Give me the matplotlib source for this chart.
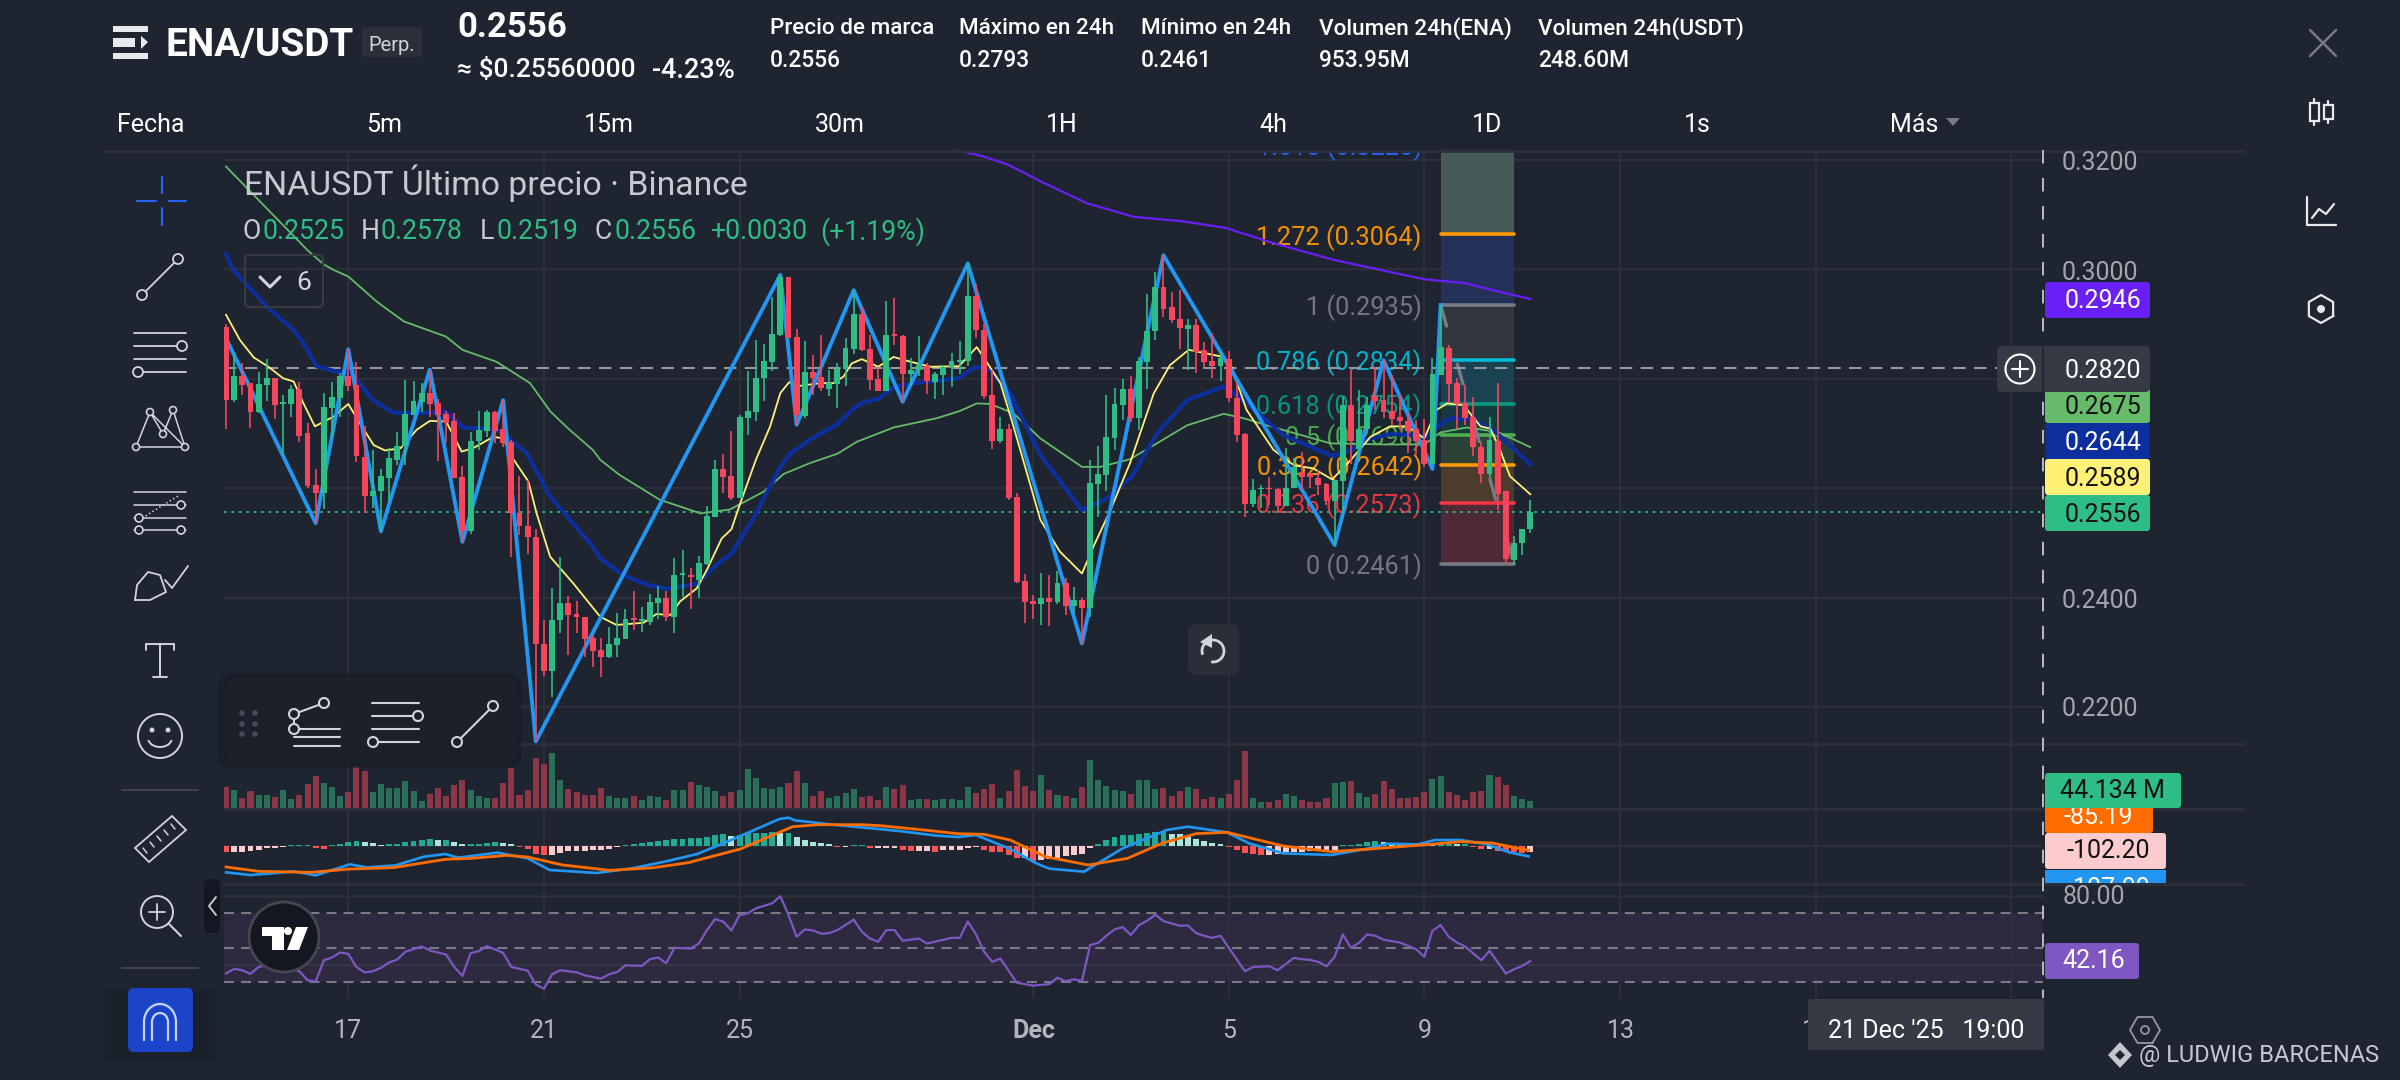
import numpy as np
import matplotlib
matplotlib.use("Agg")
import matplotlib.pyplot as plt
from matplotlib.patches import Rectangle, FancyBboxPatch, Circle, Arc, Polygon

plt.rcParams["font.family"] = ["Roboto", "DejaVu Sans"]

# 4h candles, prices in 1/10000
opens = [2895,2761,2805,2792,2739,2789,2802,2754,2754,2781,
         2700,2606,2592,2747,2764,2806,2789,2657,2586,2594,
         2619,2652,2677,2734,2758,2774,2755,2736,2722,2621,
         2522,2686,2705,2739,2708,2685,2555,2531,2511,2316,
         2265,2359,2390,2370,2364,2326,2304,2291,2313,2325,
         2363,2358,2356,2391,2399,2365,2442,2441,2433,2462,
         2548,2636,2622,2582,2728,2739,2802,2831,2880,2987,
         2876,2732,2813,2803,2781,2791,2818,2855,2919,2854,
         2800,2778,2882,2878,2809,2816,2823,2794,2807,2820,
         2831,2833,2951,2889,2770,2686,2708,2584,2430,2394,
         2388,2399,2392,2427,2385,2395,2381,2608,2624,2692,
         2752,2781,2728,2831,2887,2968,2931,2909,2891,2898,
         2853,2833,2823,2836,2764,2699,2571,2598,2601,2598,
         2567,2600,2630,2626,2619,2607,2577,2614,2752,2672,
         2708,2769,2761,2742,2731,2723,2709,2688,2645,2807,
         2857,2793,2755,2731,2676,2626,2687,2594,2469,2499,2525]
highs = [2901,2847,2828,2792,2813,2836,2802,2770,2788,2795,
         2719,2635,2774,2795,2811,2854,2830,2714,2670,2636,
         2673,2702,2798,2796,2792,2817,2763,2741,2737,2641,
         2702,2741,2743,2741,2761,2689,2622,2615,2525,2359,
         2417,2475,2403,2394,2365,2332,2326,2346,2371,2380,
         2412,2382,2407,2421,2412,2472,2487,2454,2476,2568,
         2652,2663,2704,2733,2814,2871,2864,2950,2990,2987,
         2891,2869,2844,2880,2816,2828,2874,2962,2933,2880,
         2822,2942,2947,2880,2838,2878,2828,2813,2825,2847,
         2869,3011,2973,2900,2816,2730,2717,2591,2443,2405,
         2445,2441,2448,2436,2419,2399,2651,2677,2770,2783,
         2800,2805,2839,2955,2995,3026,2959,2962,2909,2909,
         2867,2883,2850,2851,2795,2701,2616,2606,2621,2600,
         2673,2655,2667,2630,2634,2609,2615,2767,2817,2780,
         2767,2822,2834,2807,2772,2737,2725,2726,2838,2935,
         2862,2801,2789,2766,2685,2730,2792,2595,2513,2525,2578]
lows = [2708,2758,2770,2710,2737,2760,2727,2661,2730,2685,
        2600,2536,2562,2694,2731,2777,2647,2554,2563,2521,
        2574,2643,2643,2734,2740,2731,2649,2683,2618,2502,
        2516,2669,2694,2683,2676,2475,2515,2480,2137,2256,
        2219,2335,2295,2336,2292,2274,2254,2290,2292,2325,
        2341,2338,2350,2360,2358,2336,2402,2379,2399,2460,
        2548,2592,2579,2582,2697,2723,2760,2815,2879,2874,
        2716,2728,2770,2778,2769,2747,2787,2845,2851,2780,
        2778,2778,2862,2758,2786,2805,2772,2763,2770,2785,
        2809,2823,2875,2763,2671,2683,2578,2426,2354,2361,
        2350,2348,2389,2368,2371,2316,2365,2548,2595,2670,
        2725,2721,2706,2781,2871,2913,2902,2854,2816,2811,
        2821,2801,2796,2758,2685,2548,2566,2563,2569,2557,
        2567,2600,2597,2600,2587,2569,2496,2554,2645,2652,
        2706,2743,2728,2715,2706,2665,2661,2638,2645,2807,
        2755,2709,2715,2659,2610,2618,2560,2462,2460,2478,2519]
closes = [2761,2805,2789,2739,2791,2802,2752,2757,2781,2696,
          2604,2592,2749,2767,2806,2787,2658,2586,2595,2622,
          2655,2677,2736,2760,2774,2754,2733,2720,2619,2522,
          2686,2706,2739,2704,2683,2555,2530,2511,2316,2265,
          2359,2390,2368,2365,2325,2302,2292,2315,2327,2360,
          2359,2360,2392,2399,2365,2441,2445,2437,2463,2549,
          2636,2621,2582,2730,2741,2802,2833,2882,2987,2875,
          2734,2813,2802,2783,2792,2818,2856,2919,2852,2798,
          2778,2880,2878,2809,2816,2825,2796,2809,2821,2833,
          2834,2951,2889,2769,2686,2708,2582,2429,2392,2389,
          2399,2392,2427,2385,2395,2381,2609,2626,2694,2754,
          2781,2728,2833,2887,2968,2928,2907,2893,2898,2849,
          2831,2823,2838,2764,2697,2571,2597,2601,2598,2567,
          2600,2639,2620,2620,2606,2577,2615,2752,2687,2709,
          2752,2760,2740,2726,2722,2705,2687,2645,2809,2859,
          2790,2754,2728,2675,2626,2688,2589,2470,2499,2525,2556]

# volume in millions
volume = [132,113,63,107,82,82,69,113,57,82,
          151,202,158,132,76,101,265,233,101,151,
          126,126,170,107,44,88,126,76,145,176,
          113,76,63,63,158,252,82,113,315,277,
          347,176,120,101,82,82,126,76,63,63,
          76,50,76,69,50,113,113,164,145,132,
          107,76,101,113,246,189,126,120,132,158,
          233,158,76,107,63,76,95,120,69,76,
          50,132,120,145,50,57,57,50,57,57,
          50,132,95,120,151,63,107,239,139,107,
          208,113,82,76,63,132,302,176,139,113,
          107,88,176,176,120,126,76,107,132,120,
          57,69,63,88,176,359,63,38,38,50,
          88,76,50,38,38,63,158,164,170,95,
          69,88,170,120,63,63,69,101,183,202,
          101,82,50,101,107,208,195,145,76,57,44]

macd_hist = [-60,-54,-54,-51,-42,-24,-21,-15,9,9,
             9,-21,-30,9,15,30,45,36,21,9,
             12,18,30,45,48,60,54,54,36,12,
             18,18,27,33,24,12,-15,-27,-72,-87,
             -84,-66,-51,-51,-48,-42,-36,-27,-15,9,
             18,24,36,45,54,60,63,69,72,81,
             99,105,90,99,114,114,114,120,114,114,
             75,54,36,21,12,-12,-9,9,9,-24,
             -24,-24,-18,-36,-45,-45,-45,-54,-42,-42,
             -42,-21,-12,-36,-54,-60,-84,-114,-114,-138,
             -132,-120,-114,-90,-84,-72,-24,12,48,75,
             96,99,102,114,120,126,108,102,84,60,
             45,27,15,-12,-36,-66,-78,-84,-84,-78,
             -60,-54,-54,-48,-42,-42,-36,9,9,15,
             30,39,30,27,24,15,9,9,6,12,
             18,15,15,-9,-30,-30,-45,-54,-60,-66,-54]

macd_idx = [0,3,6.2,8.3,11,15.2,17.3,20.8,24.3,26.9,28.5,33.3,37,39.7,45.5,49.8,54,57.8,61.5,67.9,69,69.8,74.8,80.1,
            82.9,87.2,89.8,92,94,96.2,99.4,101,105.25,110,115.4,118,122.8,125.5,129.7,135.6,139.8,142.5,146.2,148.3,151.5,154.7,157.4,159.8]
macd_line = [-240,-264,-246,-231,-267,-168,-195,-177,-99,-75,-108,-63,-114,-219,-246,-204,-141,-75,36,240,252,228,186,150,
             129,90,78,96,36,-30,-159,-207,-234,-24,141,171,120,21,-69,-84,-30,18,12,51,51,12,-60,-96]
signal_idx = [0,4,10.4,15.2,20.5,26.9,30.1,34.4,37,41.3,47.1,52.5,56.7,63.1,69.5,72.7,78,80.25,85.6,89.8,93,96.2,100.5,105.8,110.6,114.8,119,122.8,129.7,135.6,140.4,146.7,151.5,155.3,159.8]
signal_line = [-192,-231,-240,-210,-198,-123,-114,-87,-102,-174,-222,-198,-153,-30,171,189,189,180,141,108,102,51,-99,-174,-114,21,108,120,-3,-54,-30,6,36,24,-42]

rsi_idx = [0,1,2,3,4,5,7,9,10,11,12,13,14,15,16,17,18,19,20,21,22,24,25,27,28,29,30,31,32,34,35,37,38,39,40,41,43,44,46,47,48,49,51,52,53,54,55,57,58,59,60,61,62,63,64,65,67,68,69,70,71,72,73,74,75,77,78,79,80,81,82,
           83,85,86,89,90,91,92,93,94,95,97,99,101,102,103,104,105,106,107,108,109,110,111,112,113,114,115,117,118,119,120,121,122,125,126,128,129,131,132,133,134,135,136,137,138,139,140,141,142,144,146,147,148,149,150,151,152,154,155,157,158,159,160]
rsi_val = [34.9,37.6,36.8,34.7,38.7,39.7,38.7,36.2,31,30.4,42.6,44.2,47.1,46.3,38.7,35.6,36.2,38.2,41.3,43,47.5,50.6,48.3,45.9,38.7,33.5,46.7,47.9,50.8,46.9,38.7,36.6,28.6,26.1,34.5,36.8,35.6,33.9,31.9,34.5,35.8,39.7,39.3,43.2,44.2,40.9,49.8,49.4,52.3,60.1,66.5,65,59.9,68.8,69.8,72.7,75.6,79.7,68.8,56.2,60.5,59.9,58,58.3,60.1,66.1,59.1,55.2,53.3,60.1,60.1,
           53.9,55.2,52.3,55.6,55.6,65,57.6,47.5,41.7,43.6,29.6,27.9,28.8,32.5,30.4,31.6,30.6,51.4,52.7,56.8,60.5,61.8,57.2,63,65.5,69,65.3,62.6,62.8,58.3,56.8,55.6,56.8,36.2,38.7,39.1,36.8,44,43.2,42.8,41.7,39.1,44.6,57.6,49.8,52.7,57.6,56.8,54.5,52.9,49,44.6,59.7,63,56.2,52.9,50.6,42.6,48.1,34.9,37.4,39.3,42.16]

# moving averages, read at their visible bends
ma_purple_idx = [89,92.8,96,99.8,105.6,111.4,117.3,122.6,128.5,136,147,152,156,160]
ma_purple = [.3220,.3207,.3191,.3162,.3121,.3096,.3088,.3076,.3048,.3017,.2982,.2975,.2960,.2946]
ma_green_idx = [0,10,12,13.2,15,18.5,21.8,27,29,33.2,37.3,39.8,42.2,45,45.9,48.3,53.2,56,58.2,61.8,66,68.4,71.65,75,77.4,81.9,87.2,90,92.1,93.75,96.6,99.9,105,107.25,110.9,114.2,117.9,122.4,124.8,128.1,135.5,142,147,149,152.2,156,160]
ma_green = [.3188,.3035,.3009,.2999,.2987,.2941,.2905,.2877,.2853,.2831,.2792,.2740,.2706,.2670,.2652,.2624,.2579,.2565,.2554,.2561,.2594,.2626,.2646,.2663,.2685,.2711,.2728,.2741,.2755,.2754,.2737,.2691,.2639,.2639,.2653,.2682,.2715,.2736,.2728,.2713,.2682,.2680,.2680,.2702,.2711,.2703,.2675]
ma_navy_idx = [0,0.9,5,8.3,9.5,11.1,13.6,15.4,18,20.5,23.4,27,29.1,33.2,36.9,39.75,45,45.9,48.7,51.6,54,57.75,60.2,62,64.7,68,69.2,71.65,75,77,78.2,80,81.9,84.3,89.9,91.9,93.75,96.2,99.9,105,108,111.1,114.2,117.9,122.4,124.8,129.7,135.7,138,140.4,142.8,146,147.3,148.5,150.2,153,155.5,160]
ma_navy = [.3028,.2999,.2932,.2889,.2865,.2823,.2813,.2810,.2761,.2738,.2737,.2740,.2711,.2708,.2664,.2585,.2493,.2472,.2441,.2424,.2416,.2425,.2460,.2480,.2545,.2639,.2663,.2689,.2717,.2746,.2757,.2763,.2784,.2792,.2801,.2822,.2816,.2773,.2661,.2560,.2581,.2621,.2700,.2761,.2786,.2761,.2697,.2659,.2670,.2691,.2699,.2697,.2694,.2712,.2728,.2725,.2706,.2644]
ma_yellow_idx = [0,1.7,3.4,5.2,7,8.3,9.5,10.9,13.2,15,16.4,18.1,19.5,21.4,23.4,25,27,28.9,30.3,32.8,34,35.3,37.1,38.1,39.75,42.6,45.9,47.9,51.2,52.8,54.5,55.7,57.75,59,60.8,62,63,65,66.75,68,69.1,69.8,72.9,74.5,75.75,76.75,78,80,81.9,83.5,86.4,89.9,92.1,93.3,95,96.6,99.9,102.3,105,106.4,108.5,110.9,113.8,115.8,118.1,122,123.2,125.2,128.5,131,133.4,135.7,138,140.4,142.8,144.9,147,148.5,149.8,151.8,153.9,155.1,156.3,157.5,160]
ma_yellow = [.2917,.2871,.2839,.2822,.2801,.2795,.2755,.2713,.2731,.2754,.2719,.2679,.2669,.2673,.2707,.2723,.2722,.2667,.2673,.2694,.2691,.2652,.2612,.2554,.2475,.2426,.2365,.2350,.2354,.2370,.2368,.2393,.2417,.2451,.2508,.2525,.2569,.2652,.2713,.2774,.2794,.2786,.2792,.2792,.2804,.2828,.2836,.2822,.2840,.2833,.2822,.2823,.2858,.2831,.2792,.2713,.2542,.2484,.2444,.2493,.2560,.2646,.2773,.2825,.2853,.2841,.2828,.2743,.2670,.2642,.2636,.2616,.2652,.2694,.2713,.2713,.2691,.2743,.2755,.2752,.2713,.2709,.2670,.2622,.2589]

zigzag_idx = [0,11,15,19,25,29,34,38,68,70,77,83,91,105,115,136,142,148,149]
zigzag = [.2874,.2536,.2854,.2521,.2817,.2502,.2761,.2137,.2990,.2716,.2962,.2758,.3011,.2316,.3026,.2496,.2834,.2635,.2935]

fib_ratio = ["0", "0.236", "0.382", "0.5", "0.618", "0.786", "1", "1.272", "1.618"]
fib_price = [.2461, .2573, .2642, .2698, .2754, .2834, .2935, .3064, .3228]
fib_line_col = ["#787b86", "#f23645", "#ff9800", "#4caf50", "#089981", "#00bcd4", "#787b86", "#ff9800", "#2962ff"]
fib_band_col = ["#4e2a36", "#4c3c2b", "#2c4236", "#163b3c", "#1a4250", "#34363f", "#243259", "#465a58"]
fib_start, fib_end = 149, 158

day_ticks = [15, 39, 63, 99, 123, 147, 171, 195, 219]
day_labels = ["17", "21", "25", "Dec", "5", "9", "13", "17", "21"]
price_ticks = [.32, .30, .28, .26, .24, .22]

BG = "#1e2530"
GRID = "#2b303b"
UP = "#2ebd85"
DOWN = "#f6465d"
W, H = 2400, 1080
LEFT, RIGHT = 224, 2043

fig = plt.figure(figsize=(24, 10.8), dpi=100, facecolor=BG)


def pane(top, bottom):
    ax = fig.add_axes([LEFT / W, 1 - bottom / H, (RIGHT - LEFT) / W, (bottom - top) / H])
    ax.set_facecolor("none")
    ax.set_xlim(-0.25, 222.9)
    ax.axis("off")
    for t in day_ticks:
        ax.axvline(t, color=GRID, lw=1.4, zorder=0)
    return ax


x = np.arange(len(closes))
o, h, l, c = [np.array(a) / 1e4 for a in (opens, highs, lows, closes)]
colors = [UP if c[i] >= o[i] else DOWN for i in x]

# main price pane
ax = pane(150, 744)
ax.set_ylim(.32 - 584 / 5470, .32 + 10 / 5470)
for p in price_ticks:
    ax.axhline(p, color=GRID, lw=1.6, zorder=0)

for i in range(len(fib_band_col)):
    ax.fill_between([fib_start, fib_end], fib_price[i], fib_price[i + 1], color=fib_band_col[i], lw=0, zorder=1)
for i, p in enumerate(fib_price):
    ax.plot([fib_start, fib_end], [p, p], color=fib_line_col[i], lw=2.6, solid_capstyle="round", zorder=2)
    ax.text(146.7, p - .0005, f"{fib_ratio[i]} ({p:.4f})", color=fib_line_col[i], fontsize=18.3, ha="right",
            va="center", clip_on=True, zorder=2, alpha=0.95)
ax.plot([fib_start, fib_end], [fib_price[6], fib_price[0]], color="#787b86", lw=2.4,
        linestyle=(0, (7, 11)), zorder=2)

ax.axhline(.2820, color="#9598a1", lw=1.5, linestyle=(0, (6, 4)), zorder=2.5)
ax.axhline(.2556, color=UP, lw=1.3, linestyle=(0, (1.5, 2.6)), zorder=2.5)

ax.plot(ma_purple_idx, ma_purple, color="#6a1ff5", lw=1.6, zorder=3)
ax.plot(ma_green_idx, ma_green, color="#66bb6a", lw=1.3, zorder=3)
ax.plot(ma_navy_idx, ma_navy, color="#0d2f9e", lw=3.0, zorder=3)
ax.plot(ma_yellow_idx, ma_yellow, color="#fff176", lw=1.3, zorder=3)
ax.plot(zigzag_idx, zigzag, color="#2196f3", lw=2.8, solid_joinstyle="round", zorder=3.2)

ax.vlines(x, l, h, colors=colors, lw=1.2, zorder=4)
ax.bar(x, np.abs(c - o), bottom=np.minimum(o, c), width=0.72, color=colors, lw=0, zorder=4)

# volume
ax_v = pane(744, 809)
ax_v.set_ylim(-6.3, 403)
vol_cols = ["#2a7058" if col == UP else "#8c3747" for col in colors]
ax_v.bar(x, volume, width=0.74, color=vol_cols, lw=0, zorder=2)

# macd
ax_m = pane(809, 884)
ax_m.set_ylim(-345, 330)
ax_m.axhline(0, color=GRID, lw=1.4, zorder=0)
hist_cols = []
for i, val in enumerate(macd_hist):
    prev = macd_hist[i - 1] if i else val + 1
    if val >= 0:
        hist_cols.append("#22ab94" if val >= prev else "#ace5dc")
    else:
        hist_cols.append("#ff5252" if val < prev else "#fccbcd")
ax_m.bar(x, macd_hist, width=0.72, color=hist_cols, lw=0, zorder=2)
ax_m.plot(macd_idx, macd_line, color="#2196f3", lw=1.9, zorder=3)
ax_m.plot(signal_idx, signal_line, color="#ff6d00", lw=2.0, zorder=3)

# rsi
ax_r = pane(884, 998)
ax_r.set_ylim(30 - 16 / 1.725, 70 + 29 / 1.725)
ax_r.axhspan(30, 70, color="#2d2a40", lw=0, zorder=0)
for t in day_ticks:
    ax_r.axvline(t, color=GRID, lw=1.4, zorder=0.5)
ax_r.axhline(80, color=GRID, lw=1.8, zorder=0.5)
ax_r.axhline(40, color="#363848", lw=1.4, zorder=0.5)
for lev in (70, 50, 30):
    ax_r.axhline(lev, color="#787b86", lw=1.5, linestyle=(0, (4.8, 3.4)), zorder=1)
ax_r.plot(rsi_idx, rsi_val, color="#7e57c2", lw=1.6, zorder=3)

# everything else sits on a pixel-sized overlay
ui = fig.add_axes([0, 0, 1, 1], zorder=10)
ui.set_xlim(0, W)
ui.set_ylim(H, 0)
ui.axis("off")
ui.patch.set_alpha(0)


def seg(xs, ys, col="#d1d4dc", lw=1.5, **kw):
    ui.plot(xs, ys, color=col, lw=lw, solid_capstyle="round", **kw)


def ring(cx, cy, r, col="#d1d4dc", lw=1.5, face=BG, z=6):
    ui.add_patch(Circle((cx, cy), r, facecolor=face, edgecolor=col, lw=lw, zorder=z))


def box(x0, y0, x1, y1, col, rad=4, z=3, **kw):
    p = FancyBboxPatch((x0 + rad, y0 + rad), x1 - x0 - 2 * rad, y1 - y0 - 2 * rad,
                       boxstyle=f"round,pad={rad}", facecolor=col, lw=0, zorder=z, **kw)
    ui.add_patch(p)
    return p


def txt(px, py, s, col="#ffffff", size=16, ha="left", va="center", z=7, **kw):
    return ui.text(px, py + 2.5, s, color=col, fontsize=size, ha=ha, va=va, zorder=z, **kw)


for yy in (151, 744, 809, 884):
    seg([105 if yy == 151 else LEFT, 2244], [yy, yy], GRID, 2.0, zorder=1)
seg([RIGHT, RIGHT], [150, 998], "#c4c7d0", 1.3, linestyle=(0, (7.5, 8)), zorder=2)

# header
ui.add_patch(Rectangle((113, 26), 35, 6, color="#e8e9ec", lw=0))
ui.add_patch(Rectangle((113, 38), 22, 9, color="#e8e9ec", lw=0))
ui.add_patch(Rectangle((113, 53), 35, 6, color="#e8e9ec", lw=0))
ui.add_patch(Polygon([[141, 36], [148, 42], [141, 49]], color="#e8e9ec", lw=0))
txt(166, 43, "ENA/USDT", size=27.9, weight="bold")
box(362, 27, 422, 57, "#2a2f3a")
txt(392, 43, "Perp.", "#d1d4dc", 14.5, ha="center")
txt(457, 25, "0.2556", size=25, weight="bold")
txt(457, 68, "≈ $0.25560000", size=19, weight="medium")
txt(652, 68, "-4.23%", size=19.5, weight="medium")
stat_x = [770, 959, 1141, 1319, 1538]
stat_head = ["Precio de marca", "Máximo en 24h", "Mínimo en 24h", "Volumen 24h(ENA)", "Volumen 24h(USDT)"]
stat_val = ["0.2556", "0.2793", "0.2461", "953.95M", "248.60M"]
for sx, a, b in zip(stat_x, stat_head, stat_val):
    txt(sx, 26, a, size=16.2, weight="medium")
    txt(sx, 58, b, size=16.4, weight="medium")

tf_x = [151, 384, 609, 840, 1062, 1273, 1487, 1697, 1914]
tf_lab = ["Fecha", "5m", "15m", "30m", "1H", "4h", "1D", "1s", "Más"]
for tx, s in zip(tf_x, tf_lab):
    txt(tx, 123, s, size=18, ha="center")
ui.add_patch(Polygon([[1946, 118], [1960, 118], [1953, 126]], color="#787b86", lw=0))

seg([2310, 2336], [30, 56], "#787b86", 1.8)
seg([2310, 2336], [56, 30], "#787b86", 1.8)

# right hand icons
for cx, top, bot in ((2314, 103, 121), (2328, 105, 119)):
    seg([cx, cx], [top - 4, bot + 4], "#e8e9ec", 1.6)
    ui.add_patch(Rectangle((cx - 4.5, top), 9, bot - top, facecolor=BG, edgecolor="#e8e9ec", lw=1.6, zorder=5))
seg([2307, 2307, 2336], [197, 225, 225], "#e8e9ec", 1.6)
seg([2312, 2319, 2326, 2334], [218, 209, 214, 204], "#e8e9ec", 1.6)
hex_t = np.radians(np.arange(30, 391, 60))
ui.plot(2321 + 14 * np.cos(hex_t), 309 + 14 * np.sin(hex_t), color="#e8e9ec", lw=1.6)
ui.add_patch(Circle((2321, 309), 4, color="#e8e9ec", lw=0))

# left toolbar
blue = "#2962ff"
seg([162, 162], [177, 193], blue, 1.5)
seg([162, 162], [208, 225], blue, 1.5)
seg([137, 156], [201, 201], blue, 1.5)
seg([169, 186], [201, 201], blue, 1.5)
seg([142, 178], [295, 259], lw=1.3)
ring(178, 259, 5, lw=1.3)
ring(142, 295, 5, lw=1.3)
for yy in (333, 346, 359, 372):
    seg([134, 186], [yy, yy], lw=1.3)
ring(182, 346, 5, lw=1.3)
ring(138, 372, 5, lw=1.3)
xabcd_x, xabcd_y = [136, 150, 163, 173, 185, 150], [447, 412, 434, 410, 447, 412]
seg(xabcd_x, xabcd_y, lw=1.1)
seg([136, 185], [447, 447], lw=1.1)
for a, b in zip(xabcd_x[:5], xabcd_y[:5]):
    ring(a, b, 3.5, lw=1.2)
for yy in (492, 505, 518, 530):
    seg([134, 186], [yy, yy], lw=1.1)
seg([142, 178], [518, 496], lw=1.1, linestyle=":")
ring(139, 518, 4, lw=1.2)
ring(181, 530, 4, lw=1.2)
ring(139, 530, 4, lw=1.2)
ring(181, 505, 4, lw=1.2)
seg([135, 137, 148, 160, 166, 150, 135], [600, 585, 572, 575, 592, 600, 600], lw=1.3)
seg([165, 172, 188], [580, 588, 566], lw=1.3)
seg([146, 146, 174, 174], [650, 644, 644, 650], lw=1.4)
seg([160, 160], [644, 677], lw=1.4)
seg([153, 167], [677, 677], lw=1.4)
ring(160, 736, 22, lw=1.4, z=4)
ui.add_patch(Circle((152, 730), 2.5, color="#d1d4dc", lw=0, zorder=5))
ui.add_patch(Circle((168, 730), 2.5, color="#d1d4dc", lw=0, zorder=5))
ui.add_patch(Arc((160, 738), 24, 18, theta1=10, theta2=170, color="#d1d4dc", lw=1.4, zorder=5))
seg([122, 198], [790, 790], "#454a56", 1.2)
ui.add_patch(Polygon([[135, 848], [172, 816], [186, 830], [149, 862]], facecolor=BG, edgecolor="#d1d4dc", lw=1.3))
for k in range(5):
    a = 143 + 7 * k
    b = 848 - 6 * k
    seg([a, a + 4], [b, b + 5], lw=1.1)
ring(157, 912, 16, lw=1.4, z=4)
seg([149, 165], [912, 912], lw=1.3, zorder=5)
seg([157, 157], [904, 920], lw=1.3, zorder=5)
seg([169, 181], [924, 936], lw=1.5)
seg([122, 198], [968, 968], "#454a56", 1.2)
ui.add_patch(Rectangle((105, 990), 110, 70, color="#1a2029", lw=0, zorder=0.5))
box(128, 988, 193, 1052, "#1b45c9", 6)
ui.add_patch(Arc((160, 1022), 32, 36, theta1=180, theta2=360, color="#c9d3ff", lw=1.6, zorder=5))
ui.add_patch(Arc((160, 1022), 16, 18, theta1=180, theta2=360, color="#c9d3ff", lw=1.6, zorder=5))
for bx in (144, 152, 168, 176):
    seg([bx, bx], [1022, 1040], "#c9d3ff", 1.6, zorder=5)

# legend on the chart
txt(244, 181, "ENAUSDT Último precio · Binance", "#c6c9d1", 24.3)
ohlc_x = [242, 263, 361, 381, 480, 497, 595, 615, 711, 820]
ohlc_s = ["O", "0.2525", "H", "0.2578", "L", "0.2519", "C", "0.2556", "+0.0030", "(+1.19%)"]
for i, (tx, s) in enumerate(zip(ohlc_x, ohlc_s)):
    is_letter = i < 8 and i % 2 == 0
    txt(tx, 229, s, "#c6c9d1" if is_letter else UP, 19.2)
ui.add_patch(FancyBboxPatch((249, 259), 70, 44, boxstyle="round,pad=4", facecolor="none", edgecolor="#363a45", lw=1.5, zorder=4))
seg([260, 270, 280], [277, 287, 277], "#d1d4dc", 2.2)
txt(304, 280, "6", "#d1d4dc", 19, ha="center")

# floating drawing toolbar
box(218, 673, 522, 768, "#171b24", 16, z=4.4, alpha=0.6)
box(223, 678, 517, 762, "#1b202b", 14, z=4.5)
for dx in (242, 255):
    for dy in (713, 724, 734):
        ui.add_patch(Circle((dx, dy), 2.8, color="#454a56", lw=0, zorder=5))
seg([294, 324], [714, 703], zorder=5)
seg([294, 294], [714, 729], zorder=5)
for yy in (729, 737, 746):
    seg([294, 340], [yy, yy], zorder=5)
ring(324, 703, 5, face="#1b202b")
ring(294, 714, 5, face="#1b202b")
ring(294, 729, 5, face="#1b202b")
for yy, x0, x1 in ((703, 372, 419), (716, 372, 415), (729, 372, 419), (742, 373, 419)):
    seg([x0, x1], [yy, yy], zorder=5)
ring(418, 716, 5, face="#1b202b")
ring(373, 742, 5, face="#1b202b")
seg([457, 493], [742, 706], zorder=5)
ring(493, 706, 5, face="#1b202b")
ring(457, 742, 5, face="#1b202b")

# tradingview badge and side handle
ui.add_patch(Circle((284, 937), 35, facecolor="#131722", edgecolor="#44474f", lw=2, zorder=5))
ui.add_patch(Polygon([[262, 927], [284, 927], [284, 950], [272, 950], [272, 936], [262, 936]], color="white", lw=0, zorder=6))
ui.add_patch(Circle((288, 931), 4, color="white", lw=0, zorder=6))
ui.add_patch(Polygon([[296, 927], [308, 927], [299, 950], [287, 950]], color="white", lw=0, zorder=6))
box(204, 879, 220, 933, "#131722", 7, z=4)
seg([216, 209, 216], [897, 906, 915], "#c6c9d1", 1.4, zorder=5)

# undo button
box(1188, 624, 1239, 675, "#2a2e39", 8, z=4)
ui.add_patch(Arc((1213, 651), 22, 22, theta1=-200, theta2=100, color="#d1d4dc", lw=2, zorder=5))
ui.add_patch(Polygon([[1200, 642], [1212, 634], [1212, 648]], color="#d1d4dc", lw=0, zorder=5))

# price axis
axis_labels = [("0.3200", 160), ("0.3000", 270), ("0.2400", 598), ("0.2200", 707)]
for s, yy in axis_labels:
    txt(2100, yy, s, "#a3a6af", 18, ha="center")

tag_text = ["0.2946", "0.2675", "0.2644", "0.2589", "0.2556"]
tag_top = [282, 388, 423, 459, 495]
tag_bot = [318, 423, 459, 495, 531]
tag_col = ["#6a1ff5", "#66bb6a", "#0d2f9e", "#fff176", "#2ebd85"]
tag_fg = ["white", "#111111", "white", "#111111", "#111111"]
for s, a, b, col, fg in zip(tag_text, tag_top, tag_bot, tag_col, tag_fg):
    box(2045, a, 2150, b, col, 3)
    txt(2103, (a + b) / 2 - 1, s, fg, 18, ha="center")
box(1997, 346, 2150, 392, "#363a45", 5, z=3.5)
seg([2043, 2043], [346, 392], BG, 1.2, zorder=4)
txt(2103, 368, "0.2820", "white", 18, ha="center")
ui.add_patch(Circle((2020, 369), 14.5, facecolor="none", edgecolor="white", lw=1.5, zorder=5))
seg([2012, 2028], [369, 369], "white", 1.5, zorder=5)
seg([2020, 2020], [361, 377], "white", 1.5, zorder=5)

# lower tags
box(2045, 798, 2153, 833, "#ff6d00", 3, z=3)
txt(2098, 815, "-85.19", "white", 18, ha="center", z=3.2)
box(2045, 773, 2181, 808, UP, 3, z=4)
txt(2112, 789, "44.134 M", "#111111", 18, ha="center")
box(2045, 833, 2166, 869, "#fccbcd", 3, z=4)
txt(2108, 849, "-102.20", "#111111", 18, ha="center")
clip_blue = Rectangle((2045, 870), 121, 13, color="#2196f3", lw=0, zorder=3)
ui.add_patch(clip_blue)
t = txt(2108, 887, "-107.00", "white", 18, ha="center", z=3.2, clip_on=True)
t.set_clip_path(clip_blue)
txt(2094, 894, "80.00", "#a3a6af", 18, ha="center")
box(2045, 943, 2139, 979, "#7e57c2", 3)
txt(2094, 959, "42.16", "white", 18, ha="center")

# time axis
for t_idx, s in zip(day_ticks, day_labels):
    px = 226 + 8.155 * t_idx
    txt(px, 1028, s, "#b2b5be", 18, ha="center", weight="bold" if s == "Dec" else "normal", z=2)
box(1808, 999, 2044, 1050, "#363a45", 2, z=3)
txt(1926, 1028, "21 Dec '25   19:00", "white", 18, ha="center")

# watermark
hex_t2 = np.radians(np.arange(30, 391, 60))
ui.plot(2145 + 15 * np.sin(hex_t2), 1030 + 15 * np.cos(hex_t2), color="#9598a1", lw=1.3)
ui.add_patch(Circle((2145, 1030), 4, facecolor="none", edgecolor="#9598a1", lw=1.3))
ui.add_patch(Polygon([[2120, 1042], [2132, 1055], [2120, 1068], [2108, 1055]], facecolor="#c4c7d0", lw=0))
ui.add_patch(Polygon([[2120, 1050], [2125, 1055], [2120, 1060], [2115, 1055]], facecolor=BG, lw=0))
txt(2139, 1053, "@ LUDWIG BARCENAS", "#c4c7d0", 17)

fig.savefig("out.png", dpi=100, facecolor=BG)
